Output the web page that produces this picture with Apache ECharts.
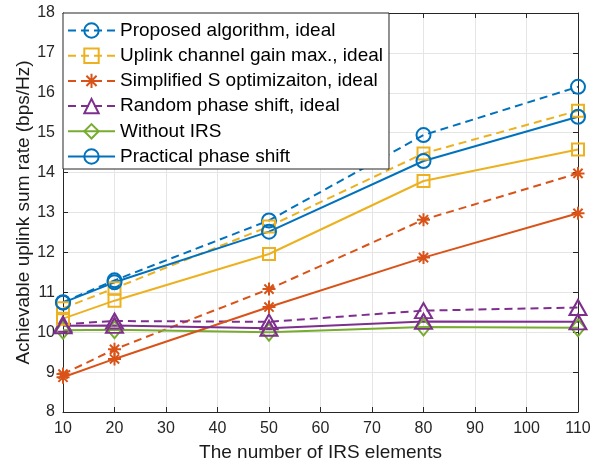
<!DOCTYPE html>
<html>
<head>
<meta charset="utf-8">
<script src="https://cdn.jsdelivr.net/npm/echarts@6/dist/echarts.min.js"></script>
<style>html,body{margin:0;padding:0;background:#fff}#c{width:600px;height:466px}</style>
</head>
<body>
<div id="c"></div>
<script>
const xValues = [10, 20, 50, 80, 110];
const xTicks = [10, 20, 30, 40, 50, 60, 70, 80, 90, 100, 110];
const yTicks = [8, 9, 10, 11, 12, 13, 14, 15, 16, 17, 18];

const proposedIdeal = [10.75, 11.3, 12.8, 14.94, 16.15];
const uplinkIdeal = [10.6, 11.1, 12.65, 14.48, 15.55];
const simplifiedIdeal = [8.95, 9.57, 11.08, 12.82, 13.98];
const randomIdeal = [10.2, 10.28, 10.26, 10.54, 10.62];
const withoutIRS = [10.05, 10.06, 10.0, 10.13, 10.11];
const practical = [10.74, 11.25, 12.52, 14.29, 15.4];
const uplinkPractical = [10.34, 10.79, 11.96, 13.79, 14.58];
const simplifiedPractical = [8.87, 9.33, 10.63, 11.87, 12.98];
const randomPractical = [10.16, 10.17, 10.1, 10.27, 10.26];

const names = [
  'Proposed algorithm, ideal',
  'Uplink channel gain max., ideal',
  'Simplified S optimizaiton, ideal',
  'Random phase shift, ideal',
  'Without IRS',
  'Practical phase shift'
];

const BLUE = '#0072BD', YEL = '#EDB120', ORA = '#D95319', PUR = '#7E2F8E', GRN = '#77AC30';
const STAR = 'path://M0,-10L0,10M-10,0L10,0M-7.07,-7.07L7.07,7.07M-7.07,7.07L7.07,-7.07';

function pts(arr) { return xValues.map((x, i) => [x, arr[i]]); }
function mk(name, arr, color, symbol, size, dashed) {
  return {
    name: name,
    type: 'line',
    data: pts(arr),
    symbol: symbol,
    symbolSize: size,
    showAllSymbol: true,
    lineStyle: { color: color, width: 2, type: dashed ? [8, 5] : 'solid' },
    itemStyle: { color: 'rgba(0,0,0,0)', borderColor: color, borderWidth: 2 },
    emphasis: { disabled: true },
    animation: false
  };
}

const chart = echarts.init(document.getElementById('c'), null, { renderer: 'canvas' });
const axisCol = '#262626';
const font = 'Liberation Sans, Arial, Helvetica, sans-serif';
chart.setOption({
  backgroundColor: '#fff',
  animation: false,
  textStyle: { fontFamily: font },
  grid: { left: 63, right: 22, top: 13, bottom: 54, containLabel: false, outerBoundsMode: 'none' },
  xAxis: [{
    type: 'value', min: xTicks[0], max: xTicks[xTicks.length - 1], interval: 10,
    name: 'The number of IRS elements', nameLocation: 'middle', nameGap: 31,
    nameTextStyle: { fontSize: 19, color: '#1a1a1a', fontFamily: font },
    axisLine: { show: true, lineStyle: { color: axisCol, width: 1 } },
    axisTick: { show: true, inside: true, length: 5, lineStyle: { color: axisCol } },
    axisLabel: { fontSize: 16, color: axisCol, margin: 9, fontFamily: font },
    splitLine: { show: true, lineStyle: { color: '#e5e5e5', width: 1 } }
  }, {
    type: 'value', position: 'top', min: xTicks[0], max: xTicks[xTicks.length - 1], interval: 10,
    axisLine: { show: true, onZero: false, lineStyle: { color: axisCol, width: 1 } },
    axisTick: { show: true, inside: true, length: 5, lineStyle: { color: axisCol } },
    axisLabel: { show: false }, splitLine: { show: false }
  }],
  yAxis: [{
    type: 'value', min: yTicks[0], max: yTicks[yTicks.length - 1], interval: 1,
    name: 'Achievable uplink sum rate (bps/Hz)', nameLocation: 'middle', nameGap: 30,
    nameMoveOverlap: false,
    nameTextStyle: { fontSize: 19, color: '#1a1a1a', fontFamily: font },
    axisLine: { show: true, lineStyle: { color: axisCol, width: 1 } },
    axisTick: { show: true, inside: true, length: 5, lineStyle: { color: axisCol } },
    axisLabel: { fontSize: 16, color: axisCol, margin: 8, fontFamily: font },
    splitLine: { show: true, lineStyle: { color: '#e5e5e5', width: 1 } }
  }, {
    type: 'value', position: 'right', min: yTicks[0], max: yTicks[yTicks.length - 1], interval: 1,
    axisLine: { show: true, onZero: false, lineStyle: { color: axisCol, width: 1 } },
    axisTick: { show: true, inside: true, length: 5, lineStyle: { color: axisCol } },
    axisLabel: { show: false }, splitLine: { show: false }
  }],
  legend: {
    data: names,
    orient: 'vertical',
    left: 63, top: 13,
    padding: [8, 6, 3, 4],
    itemWidth: 47, itemHeight: 18, itemGap: 6.2,
    backgroundColor: '#fff',
    borderColor: axisCol, borderWidth: 1,
    textStyle: { fontSize: 19, color: '#000', fontFamily: font, padding: [0, 0, 0, 0] },
    selectedMode: false
  },
  series: [
    mk(names[0], proposedIdeal, BLUE, 'circle', 14, true),
    mk(names[1], uplinkIdeal, YEL, 'rect', 12, true),
    mk(names[2], simplifiedIdeal, ORA, STAR, 13, true),
    mk(names[3], randomIdeal, PUR, 'triangle', [17, 15], true),
    mk(names[4], withoutIRS, GRN, 'diamond', [14, 17], false),
    mk(names[5], practical, BLUE, 'circle', 14, false),
    mk('Uplink channel gain max., practical', uplinkPractical, YEL, 'rect', 12, false),
    mk('Simplified S optimizaiton, practical', simplifiedPractical, ORA, STAR, 13, false),
    mk('Random phase shift, practical', randomPractical, PUR, 'triangle', [17, 15], false)
  ]
});
</script>
</body>
</html>
